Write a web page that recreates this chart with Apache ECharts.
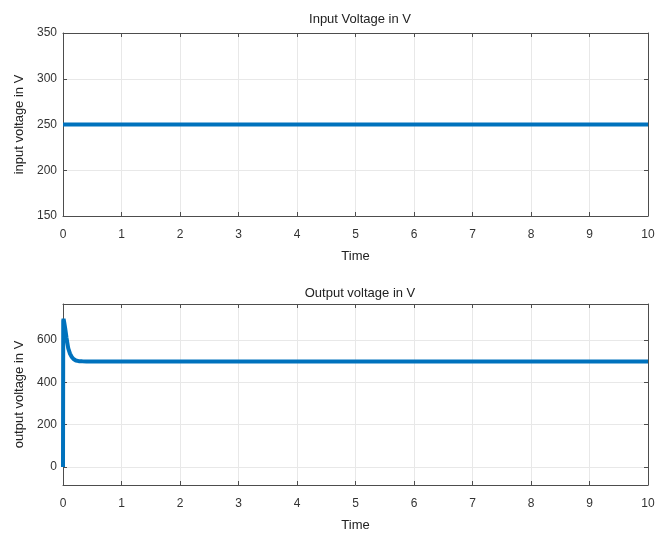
<!DOCTYPE html>
<html>
<head>
<meta charset="utf-8">
<script src="https://cdn.jsdelivr.net/npm/echarts@6/dist/echarts.min.js"></script>
<style>
  html, body { margin: 0; padding: 0; background: #fff; }
  #chart { width: 668px; height: 533px; }
</style>
</head>
<body>
<div id="chart"></div>
<script>
// Two stacked MATLAB-style subplots: input voltage (flat 250 V) and output voltage
// (spike to ~700 V at start, settling to ~500 V).
const TIME_IN = [0, 10];
const VOLT_IN = [250, 250];

const TIME_OUT = [0, 0.004, 0.01, 0.02, 0.04, 0.06, 0.09, 0.12, 0.15, 0.18, 0.22, 0.27, 0.33, 0.4, 1, 10];
const VOLT_OUT = [0, 690, 700, 685, 650, 610, 560, 535, 520, 510, 503, 500, 499, 498, 498, 498];

const TITLES = ["Input Voltage in V", "Output voltage in V"];
const Y_NAMES = ["input voltage in V", "output voltage in V"];

const FONT = "Liberation Sans, Arial, sans-serif";
const AXIS_COLOR = "#4d4d4d";
const LABEL_COLOR = "#333";
const GRID_COLOR = "#e8e8e8";
const LINE_COLOR = "#0072BD";

const pairs = (xs, ys) => xs.map((x, i) => [x, ys[i]]);

function xAxisFor(gridIndex, top) {
  return {
    gridIndex,
    type: "value",
    position: top ? "top" : "bottom",
    min: 0, max: 10, interval: 1,
    name: top ? "" : "Time",
    nameLocation: "middle",
    nameGap: 34,
    nameTextStyle: { color: "#222", fontSize: 13, fontFamily: FONT },
    axisLine: { show: true, onZero: false, lineStyle: { color: AXIS_COLOR, width: 1 } },
    axisTick: { show: true, inside: true, length: 4, lineStyle: { color: AXIS_COLOR } },
    axisLabel: { show: !top, color: LABEL_COLOR, fontSize: 12, fontFamily: FONT, margin: 13 },
    splitLine: { show: !top, lineStyle: { color: GRID_COLOR, width: 1 } },
  };
}

function yAxisFor(gridIndex, right, range) {
  return Object.assign({
    gridIndex,
    type: "value",
    position: right ? "right" : "left",
    name: right ? "" : Y_NAMES[gridIndex],
    nameLocation: "middle",
    nameGap: 29,
    nameTextStyle: { color: "#222", fontSize: 13, fontFamily: FONT },
    axisLine: { show: true, onZero: false, lineStyle: { color: AXIS_COLOR, width: 1 } },
    axisTick: { show: true, inside: true, length: 4, lineStyle: { color: AXIS_COLOR } },
    axisLabel: { show: !right, color: LABEL_COLOR, fontSize: 12, fontFamily: FONT, margin: 6,
                 showMinLabel: gridIndex === 0, showMaxLabel: gridIndex === 0 },
    splitLine: { show: !right, lineStyle: { color: GRID_COLOR, width: 1 } },
  }, range);
}

const RANGE_IN = { min: 150, max: 350, interval: 50 };
const RANGE_OUT = { min: -85, max: 770, splitNumber: 5 };

const chart = echarts.init(document.getElementById("chart"));
chart.setOption({
  backgroundColor: "#fff",
  animation: false,
  title: [
    { text: TITLES[0], left: 355, top: 8, textAlign: "center",
      textStyle: { fontSize: 13, fontWeight: "normal", color: "#222", fontFamily: FONT } },
    { text: TITLES[1], left: 355, top: 282, textAlign: "center",
      textStyle: { fontSize: 13, fontWeight: "normal", color: "#222", fontFamily: FONT } },
  ],
  grid: [
    { left: 63, right: 20, top: 33, height: 183 },
    { left: 63, right: 20, top: 304, height: 182 },
  ],
  xAxis: [xAxisFor(0, false), xAxisFor(0, true), xAxisFor(1, false), xAxisFor(1, true)],
  yAxis: [
    yAxisFor(0, false, RANGE_IN), yAxisFor(0, true, RANGE_IN),
    yAxisFor(1, false, RANGE_OUT), yAxisFor(1, true, RANGE_OUT),
  ],
  series: [
    {
      type: "line", xAxisIndex: 0, yAxisIndex: 0,
      data: pairs(TIME_IN, VOLT_IN),
      showSymbol: false,
      lineStyle: { color: LINE_COLOR, width: 4 },
    },
    {
      type: "line", xAxisIndex: 2, yAxisIndex: 2,
      data: pairs(TIME_OUT, VOLT_OUT),
      showSymbol: false,
      lineStyle: { color: LINE_COLOR, width: 4 },
    },
  ],
});
</script>
</body>
</html>
